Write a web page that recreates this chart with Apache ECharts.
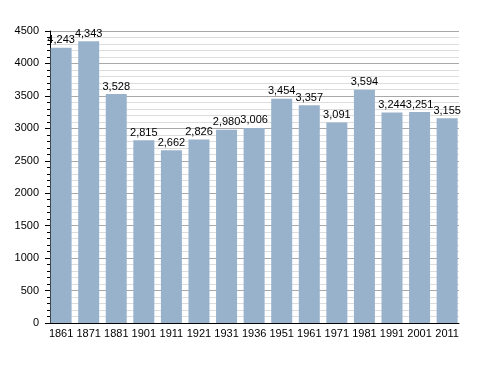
<!DOCTYPE html>
<html>
<head>
<meta charset="utf-8">
<script src="https://cdn.jsdelivr.net/npm/echarts@6/dist/echarts.min.js"></script>
<style>html,body{margin:0;padding:0;background:#fff;}#c{width:488px;height:373px;}</style>
</head>
<body>
<div id="c"></div>
<script>
var years = ['1861','1871','1881','1901','1911','1921','1931','1936','1951','1961','1971','1981','1991','2001','2011'];
var population = [4243,4343,3528,2815,2662,2826,2980,3006,3454,3357,3091,3594,3244,3251,3155];
var yTicks = [0,500,1000,1500,2000,2500,3000,3500,4000,4500];

var idx = years.map(function(_, i){ return i; });
var chart = echarts.init(document.getElementById('c'), null, {renderer:'canvas'});
var font = 'Liberation Sans';
chart.setOption({
  animation: false,
  tooltip: {show: false},
  grid: {left: 50, top: 31, width: 409, height: 292, containLabel: false},
  xAxis: {
    type: 'value',
    min: -0.403, max: 14.43,
    axisLine: {show: true, onZero: false, lineStyle: {color: '#000', width: 1}},
    axisTick: {show: false},
    minorTick: {show: false},
    splitLine: {show: false},
    axisLabel: {
      customValues: idx,
      formatter: function(v){ return years[Math.round(v)]; },
      color: '#000', fontFamily: font, fontSize: 11, margin: 5
    }
  },
  yAxis: {
    type: 'value',
    min: yTicks[0], max: yTicks[yTicks.length-1], interval: 500,
    axisLine: {show: true, onZero: false, lineStyle: {color: '#000', width: 1}},
    axisTick: {show: true, length: 5, lineStyle: {color: '#000'}},
    minorTick: {show: true, splitNumber: 5, length: 3, lineStyle: {color: '#000'}},
    splitLine: {show: true, lineStyle: {color: '#a8a8a8', width: 1}},
    minorSplitLine: {show: true, lineStyle: {color: '#dddddd', width: 1}},
    axisLabel: {color: '#000', fontFamily: font, fontSize: 11, margin: 11,
      formatter: function(v){ return String(v); }}
  },
  series: [{
    type: 'bar',
    data: population.map(function(v, i){ return [i, v]; }),
    barWidth: 21,
    itemStyle: {color: '#98b2cc'},
    label: {
      show: true, position: 'top', distance: 2,
      color: '#000', fontFamily: font, fontSize: 11,
      formatter: function(p){ return p.value[1].toLocaleString('en-US'); }
    }
  }]
});
</script>
</body>
</html>
